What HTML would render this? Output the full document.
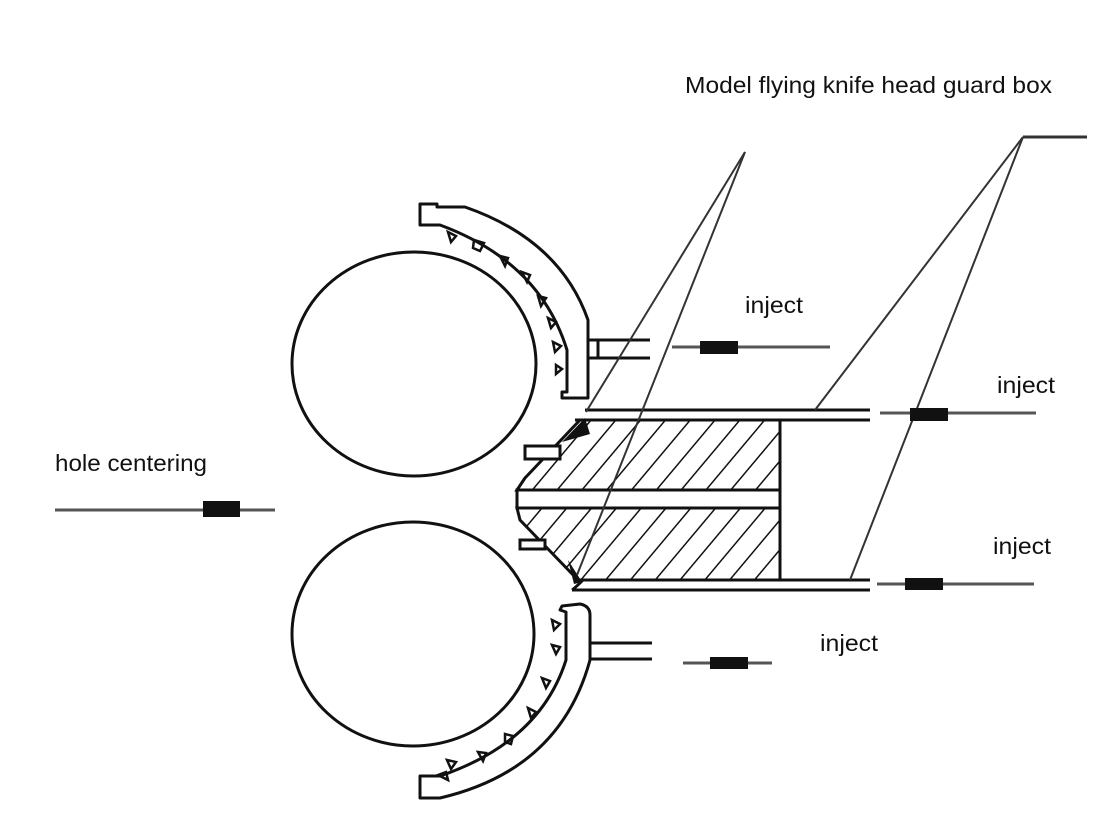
<!DOCTYPE html>
<html><head><meta charset="utf-8"><style>
html,body{margin:0;padding:0;background:#fff}
svg{display:block}
text{font-family:"Liberation Sans",Arial,sans-serif;fill:#111}
</style></head><body>
<svg width="1098" height="814" viewBox="0 0 1098 814" xmlns="http://www.w3.org/2000/svg">
<defs>
<pattern id="h" patternUnits="userSpaceOnUse" width="19" height="19" patternTransform="rotate(40)">
<line x1="0" y1="0" x2="0" y2="19" stroke="#111" stroke-width="3"/>
</pattern>
</defs>
<g fill="none" stroke="#111" stroke-width="3" stroke-linejoin="round">
<ellipse cx="414" cy="364" rx="122" ry="112"/>
<ellipse cx="413" cy="634" rx="121" ry="112"/>
<path d="M420,204 L437,204 L437,207 L465,207 Q560,240 588,320 L588,398 L562,398 L562,392 L567,392 L567,350 Q540,262 440,225 L420,225 Z"/>
<path d="M588,340 L650,340 M588,358 L650,358" />
<line x1="598" y1="340" x2="598" y2="358"/>
<path d="M420,776 L440,776 Q540,742 566,660 L566,612 L560,610 L562,606 L580,604 Q590,606 590,615 L590,660 Q560,770 440,798 L420,798 Z"/>
<path d="M590,643 L652,643 M590,659 L652,659"/>
<path d="M585,410 L870,410 M575,420 L870,420"/>
<path d="M580,580 L870,580 M572,590 L870,590"/>
<path d="M583,580 Q575,588 572,590"/>
</g>
<!-- teeth -->
<g fill="none" stroke="#111" stroke-width="2.5">
<path d="M448,232 l8,4 l-5,6 z M474,240 l10,3 l-4,8 l-7,-3 z M500,256 l8,2 l-3,8 z M522,272 l8,3 l-3,7 z M538,296 l8,2 l-5,8 z M548,318 l8,4 l-5,6 z M553,342 l8,4 l-6,6 z M556,365 l6,4 l-6,5 z"/>
<path d="M552,620 l8,4 l-6,6 z M552,645 l8,2 l-4,7 z M542,678 l8,3 l-4,7 z M528,708 l8,4 l-5,6 z M505,734 l8,2 l-2,8 l-6,-2 z M478,752 l8,1 l-3,8 z M447,760 l9,2 l-5,7 z M438,775 l8,-3 l2,8 z"/>
</g>
<path d="M525,478 L580,420 L780,420 L780,490 L517,490 Z" fill="url(#h)" stroke="#111" stroke-width="3"/>
<path d="M517,508 L780,508 L780,580 L578,580 L520,520 Z" fill="url(#h)" stroke="#111" stroke-width="3"/>
<rect x="517" y="490" width="263" height="18" fill="#fff" stroke="#111" stroke-width="3"/>
<rect x="525" y="446" width="35" height="13" fill="#fff" stroke="#111" stroke-width="3"/>
<rect x="520" y="540" width="25" height="9" fill="#fff" stroke="#111" stroke-width="3"/>
<path d="M562,442 L585,418 L590,434 Z" fill="#111"/>
<path d="M568,560 L582,582 L574,584 Z" fill="#111"/>
<g stroke="#333" stroke-width="2" fill="none">
<line x1="745" y1="152" x2="586" y2="412"/>
<line x1="745" y1="152" x2="577" y2="575"/>
<line x1="1023" y1="137" x2="815" y2="410"/>
<line x1="1023" y1="137" x2="850" y2="580"/>
<line x1="1023" y1="137" x2="1087" y2="137" stroke-width="3"/>
</g>
<g stroke="#555" stroke-width="3">
<line x1="672" y1="347" x2="830" y2="347"/>
<line x1="880" y1="413" x2="1036" y2="413"/>
<line x1="877" y1="584" x2="1034" y2="584"/>
<line x1="683" y1="663" x2="772" y2="663"/>
<line x1="55" y1="510" x2="275" y2="510"/>
</g>
<g fill="#111">
<rect x="700" y="341" width="38" height="13"/>
<rect x="910" y="408" width="38" height="13"/>
<rect x="905" y="578" width="38" height="12"/>
<rect x="710" y="657" width="38" height="12"/>
<rect x="203" y="501" width="37" height="16"/>
</g>
<g font-size="23">
<text x="685" y="93" textLength="367" lengthAdjust="spacingAndGlyphs">Model flying knife head guard box</text>
<text x="745" y="313" textLength="58" lengthAdjust="spacingAndGlyphs">inject</text>
<text x="997" y="393" textLength="58" lengthAdjust="spacingAndGlyphs">inject</text>
<text x="993" y="554" textLength="58" lengthAdjust="spacingAndGlyphs">inject</text>
<text x="820" y="651" textLength="58" lengthAdjust="spacingAndGlyphs">inject</text>
<text x="55" y="471" textLength="152" lengthAdjust="spacingAndGlyphs">hole centering</text>
</g>
</svg>
</body></html>
